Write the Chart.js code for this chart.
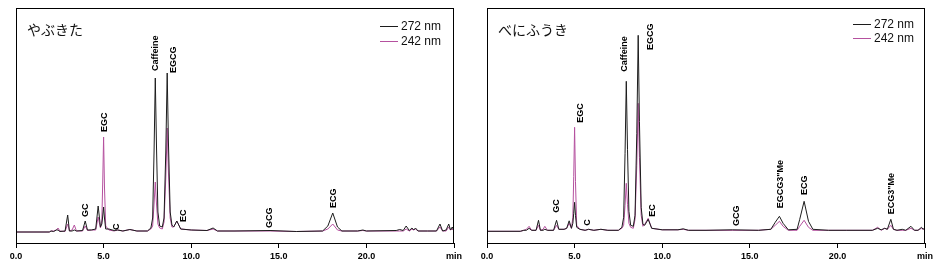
<!DOCTYPE html>
<html>
<head>
<meta charset="utf-8">
<script src="https://cdn.jsdelivr.net/npm/chart.js@4.4.1/dist/chart.umd.min.js"></script>
<style>
  body { margin: 0; background: #fff; }
  .panel { position: absolute; top: 0; }
</style>
</head>
<body>
<div class="panel" style="left:0"><canvas id="yabukita" width="470" height="265"></canvas></div>
<div class="panel" style="left:470px"><canvas id="benifuuki" width="469" height="265"></canvas></div>
<script>
// やぶきた: retention time (min) and detector response (arbitrary units)
const timesA = [0.0, 1.9, 2.0, 2.15, 2.3, 2.4, 2.5, 2.8, 2.95, 3.05, 3.2, 3.33, 3.45, 3.8, 3.95, 4.08, 4.3, 4.55, 4.69, 4.82,
  4.9, 4.95, 5.0, 5.05, 5.12, 5.3, 5.6, 5.8, 6.1, 6.5, 6.9, 7.5, 7.7, 7.8, 7.88, 7.95, 8.02, 8.1, 8.2, 8.35,
  8.45, 8.55, 8.63, 8.7, 8.8, 8.9, 9.0, 9.18, 9.4, 10.0, 10.9,
  11.25, 11.5, 12.5, 14.5, 16.0, 17.5, 17.8, 18.08, 18.35, 18.6, 19.5, 19.8, 20.0, 21.7, 21.9, 22.1, 22.27, 22.45, 22.6, 22.7,
  22.8, 22.95, 23.5, 24.0, 24.2, 24.35, 24.55, 24.7, 24.8, 24.9, 25.0];
const a272 = [0, 0, 1, 0.5, 2, 2, 0.5, 1, 17, 1, 1, 2, 1, 1.5, 11, 2, 2, 3, 26, 5,
  8, 16, 25, 14, 3, 3, 1.5, 2, 1, 2.5, 1, 1, 4, 14, 80, 154, 85, 20, 6, 5,
  14, 80, 159, 90, 20, 7, 5, 11, 3, 2, 1.5,
  4, 1, 1, 1.5, 0.5, 1, 6, 19, 5, 1, 1, 2, 1, 1.5, 2.5, 1.5, 6, 1.5, 4, 2,
  4, 1, 1, 1, 8, 1, 2, 8, 2, 5, 1];
const a242 = [0, 0, 1, 1, 2, 4, 1, 0.5, 8, 1, 2, 7, 1, 1, 6, 1.5, 2, 2, 15, 4,
  12, 50, 95, 45, 6, 2, 1, 2, 1, 2.5, 1, 1, 3, 6, 28, 50, 28, 8, 4, 3,
  10, 54, 104, 60, 14, 5, 5, 11, 3, 2, 1.5,
  3, 1, 1, 1, 0.5, 1, 3, 8, 2, 1, 1, 1.5, 1, 1, 1, 1, 3, 1, 3, 2,
  3, 1, 1, 1, 5, 1, 1, 5, 2, 3, 1];
const peaksA = ['GC', 'EGC', 'C', 'Caffeine', 'EGCG', 'EC', 'GCG', 'ECG'];
const peakTimesA = [3.95, 5.06, 5.76, 7.97, 9.01, 9.57, 14.49, 18.1];
const peakTopsA = [15, 100, 2, 161, 159, 10, 4, 24];

// べにふうき
const timesB = [0.0, 1.9, 2.1, 2.25, 2.4, 2.55, 2.8, 2.94, 3.05, 3.2, 3.3, 3.45, 3.8, 3.97, 4.1, 4.4, 4.55, 4.69, 4.82,
  4.9, 4.95, 5.0, 5.05, 5.12, 5.3, 5.6, 5.8, 6.1, 6.5, 6.9, 7.5, 7.7, 7.8, 7.88, 7.95, 8.02, 8.1, 8.2, 8.35,
  8.45, 8.55, 8.63, 8.7, 8.8, 8.9, 9.0, 9.2, 9.4, 10.0, 10.9,
  11.2, 11.5, 12.5, 14.0, 15.5, 16.2, 16.45, 16.69, 16.9, 17.2, 17.7, 17.85, 18.1, 18.35, 18.6, 19.5, 20.5, 22.0, 22.3, 22.5,
  22.7, 22.85, 23.05, 23.2, 23.4, 23.7, 23.9, 24.2, 24.4, 24.6, 24.8, 24.9, 25.0];
const b272 = [0, 0, 1, 1, 3, 1, 1, 11, 1, 1, 2, 1, 1, 11, 2, 2, 3, 10.5, 3,
  8, 18, 29, 16, 4, 2, 1, 2, 1, 2, 1, 1, 4, 14, 78, 150, 82, 20, 6, 5,
  16, 98, 196, 110, 24, 7, 6, 12, 3, 1.5, 1.5,
  2.5, 1, 1, 1.5, 1, 2, 9, 15, 8, 1.5, 2, 12, 30, 10, 2, 1, 1, 1, 3, 1.5,
  3, 2, 12, 2, 1, 2, 1, 5, 1, 1, 4, 2, 4];
const b242 = [0, 0, 1, 2, 5, 1, 1, 6, 1, 2, 5, 1, 1, 6, 2, 2, 3, 8, 3,
  14, 55, 104, 50, 6, 2, 1, 2, 1, 2, 1, 1, 3, 6, 26, 48, 27, 8, 4, 3,
  12, 66, 128, 74, 16, 5, 7, 13, 3, 1.5, 1.5,
  2, 1, 1, 1, 1, 2, 6, 10, 5, 1, 1, 5, 11, 4, 1, 1, 1, 1, 4, 1,
  3, 2, 6, 2, 1, 1, 1, 3, 1, 1, 3, 2, 3];
const peaksB = ['GC', 'EGC', 'C', 'Caffeine', 'EGCG', 'EC', 'GCG', 'EGCG3"Me', 'ECG', 'ECG3"Me'];
const peakTimesB = [3.95, 5.32, 5.74, 7.87, 9.32, 9.47, 14.26, 16.77, 18.12, 23.1];
const peakTopsB = [18.6, 108.6, 5.6, 159.6, 181.3, 14.6, 5.3, 23, 36.3, 17];

const xTicks = [0, 5, 10, 15, 20, 25];

const toPoints = (xs, ys) => xs.map((x, i) => ({ x: x, y: ys[i] }));

// 枠線・タイトル・凡例・ピーク名
const decorations = {
  id: 'decorations',
  afterDatasetsDraw(chart, args, opts) {
    const { ctx, chartArea: a, scales } = chart;
    ctx.save();
    ctx.strokeStyle = '#000';
    ctx.lineWidth = 1;
    ctx.strokeRect(Math.round(a.left) + 0.5, Math.round(a.top) + 0.5,
      Math.round(a.right - a.left) - 1, Math.round(a.bottom - a.top));

    ctx.fillStyle = '#111';
    ctx.font = '14px "Noto Sans CJK JP"';
    ctx.textBaseline = 'middle';
    ctx.textAlign = 'left';
    ctx.fillText(opts.title, a.left + 11, 30);

    ctx.font = '12px "Liberation Sans"';
    chart.data.datasets.forEach((ds, i) => {
      const y = opts.legendY + i * opts.legendGap;
      ctx.strokeStyle = ds.borderColor;
      ctx.beginPath();
      ctx.moveTo(opts.legendX, y + 0.5);
      ctx.lineTo(opts.legendX + 18, y + 0.5);
      ctx.stroke();
      ctx.fillText(ds.label, opts.legendX + 21, y + 1);
    });

    ctx.font = 'bold 9px "Liberation Sans"';
    ctx.fillStyle = '#000';
    opts.names.forEach((name, i) => {
      const x = scales.x.getPixelForValue(opts.times[i]);
      const y = scales.y.getPixelForValue(opts.tops[i]);
      ctx.save();
      ctx.translate(x, y);
      ctx.rotate(-Math.PI / 2);
      ctx.textAlign = 'left';
      ctx.textBaseline = 'middle';
      ctx.fillText(name, 0, 0);
      ctx.restore();
    });
    ctx.restore();
  }
};

function makePanel(id, times, s272, s242, names, ptimes, tops, yMin, yMax, pad, deco) {
  return new Chart(document.getElementById(id), {
    type: 'line',
    data: {
      datasets: [
        { label: '272 nm', data: toPoints(times, s272), borderColor: '#1c1c1c', borderWidth: 1, order: 0 },
        { label: '242 nm', data: toPoints(times, s242), borderColor: '#b5519f', borderWidth: 1, order: 1 }
      ]
    },
    options: {
      responsive: false,
      animation: false,
      devicePixelRatio: 1,
      layout: { padding: pad },
      elements: { point: { radius: 0 }, line: { tension: 0 } },
      plugins: {
        legend: { display: false },
        tooltip: { enabled: false },
        decorations: Object.assign({ names: names, times: ptimes, tops: tops }, deco)
      },
      scales: {
        x: {
          type: 'linear',
          min: 0,
          max: 25,
          afterBuildTicks: (scale) => { scale.ticks = xTicks.map((v) => ({ value: v })); },
          afterFit: (scale) => { scale.height = 22; },
          ticks: {
            autoSkip: false,
            maxRotation: 0,
            padding: 3,
            color: '#000',
            font: { family: 'Liberation Sans', size: 9, weight: 'bold' },
            callback: (v) => (v === 25 ? 'min' : v.toFixed(1))
          },
          grid: { drawOnChartArea: false, tickLength: 5, color: '#000' },
          border: { display: true, color: '#000' }
        },
        y: { display: false, min: yMin, max: yMax }
      }
    },
    plugins: [decorations]
  });
}

makePanel('yabukita', timesA, a272, a242, peaksA, peakTimesA, peakTopsA, -11, 224,
  { left: 16, right: 16, top: 8, bottom: 0 },
  { title: 'やぶきた', legendX: 380, legendY: 26, legendGap: 15 });

makePanel('benifuuki', timesB, b272, b242, peaksB, peakTimesB, peakTopsB, -11.7, 223.3,
  { left: 17, right: 14, top: 8, bottom: 0 },
  { title: 'べにふうき', legendX: 383, legendY: 24, legendGap: 14 });
</script>
</body>
</html>
